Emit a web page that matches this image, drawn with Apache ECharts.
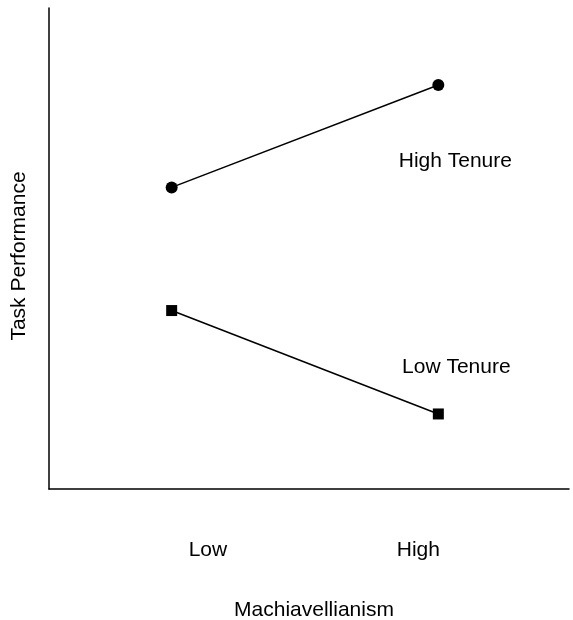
<!DOCTYPE html>
<html>
<head>
<meta charset="utf-8">
<script src="https://cdn.jsdelivr.net/npm/echarts@6/dist/echarts.min.js"></script>
<style>html,body{margin:0;padding:0;background:#fff}#c{width:573px;height:620px}</style>
</head>
<body>
<div id="c"></div>
<script>
// Data
var categoryPos = [0, 1];               // Low, High Machiavellianism
var tickLabels = ['Low', 'High'];
var tickLabelPos = [0.136, 0.925];
var highTenure = [6.27, 8.40];
var lowTenure = [3.71, 1.56];
var seriesNames = ['High Tenure', 'Low Tenure'];

var FONT = 'Liberation Sans, Arial, Helvetica, sans-serif';
var chart = echarts.init(document.getElementById('c'), null, {renderer: 'canvas'});

function pts(vals, labelOpt) {
  return vals.map(function (v, i) {
    var d = {value: [categoryPos[i], v]};
    if (i === vals.length - 1) d.label = labelOpt;
    return d;
  });
}

chart.setOption({
  animation: false,
  backgroundColor: '#fff',
  grid: {left: 49, right: 4, top: 8, bottom: 131, containLabel: false, outerBoundsMode: 'none'},
  xAxis: {
    type: 'value', min: -0.46, max: 1.49,
    name: 'Machiavellianism', nameLocation: 'middle', nameGap: 111,
    nameTextStyle: {color: '#000', fontSize: 21, fontFamily: FONT, padding: [0, 0, 0, 10]},
    axisLine: {show: true, onZero: false, lineStyle: {color: '#000', width: 1.5}},
    axisTick: {show: false},
    splitLine: {show: false},
    axisLabel: {
      show: true, customValues: tickLabelPos, margin: 51,
      color: '#000', fontSize: 21, fontFamily: FONT,
      formatter: function (v) {
        var i = tickLabelPos.indexOf(v);
        return i >= 0 ? tickLabels[i] : '';
      }
    }
  },
  yAxis: {
    type: 'value', min: 0, max: 10,
    name: 'Task Performance', nameLocation: 'middle', nameGap: 19,
    nameTextStyle: {color: '#000', fontSize: 21, fontFamily: FONT, padding: [0, 15, 0, 0]},
    axisLine: {show: true, onZero: false, lineStyle: {color: '#000', width: 1.5}},
    axisTick: {show: false},
    splitLine: {show: false},
    axisLabel: {show: false}
  },
  series: [
    {
      name: seriesNames[0], type: 'line',
      symbol: 'circle', symbolSize: 12,
      itemStyle: {color: '#000'},
      lineStyle: {color: '#000', width: 1.5},
      data: pts(highTenure, {
        show: true, formatter: seriesNames[0], position: 'inside', offset: [17, 76],
        color: '#000', fontSize: 21, fontFamily: FONT
      })
    },
    {
      name: seriesNames[1], type: 'line',
      symbol: 'rect', symbolSize: 11,
      itemStyle: {color: '#000'},
      lineStyle: {color: '#000', width: 1.5},
      data: pts(lowTenure, {
        show: true, formatter: seriesNames[1], position: 'inside', offset: [18, -47],
        color: '#000', fontSize: 21, fontFamily: FONT
      })
    }
  ]
});
</script>
</body>
</html>
